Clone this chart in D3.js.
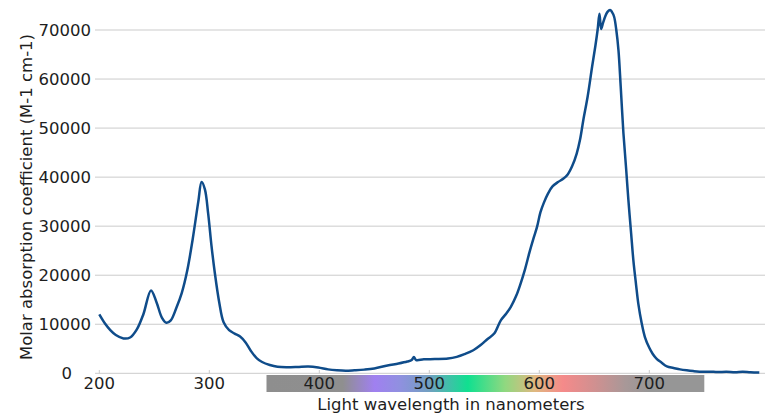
<!DOCTYPE html>
<html>
<head>
<meta charset="utf-8">
<script src="https://cdn.jsdelivr.net/npm/d3@7"></script>
<style>
  body { margin: 0; background: #fff; }
  text { font-family: "DejaVu Sans", sans-serif; fill: #1e1e1e; }
</style>
</head>
<body>
<svg id="chart" width="766" height="416"></svg>
<script>
// wavelength (nm) and molar absorption coefficient
var wavelengths = [200, 205, 210, 215, 222, 228, 234, 240, 247, 252, 257, 261, 265, 270, 275, 280, 285, 290, 293, 296,
  299, 302, 305, 309, 313, 318, 323, 328, 333, 338, 343, 348, 355, 362, 370, 380, 390, 399, 408, 416,
  424, 432, 441, 450, 462, 472, 480, 484, 486, 488, 495, 505, 517, 525, 532, 540, 547, 553, 559, 565,
  570, 574, 579, 583, 587, 591, 595, 598, 601, 604, 608, 612, 617, 622, 626, 630, 634, 637, 640, 644,
  648, 651, 653, 654.7, 656.2, 658, 660, 662, 664.3, 666, 668, 670, 672, 674, 676.5, 679, 681, 683.5, 685.5, 688,
  690, 693, 696, 700, 703, 706.5, 711, 716, 722, 728, 734, 740, 749, 755, 762, 770, 778, 785, 792, 800];
var absorption = [12000, 10200, 8800, 7800, 7100, 7300, 8900, 12000, 16900, 14500, 11300, 10300, 10800, 13300, 16400, 21000, 27500, 35000, 39000, 37500,
  32500, 26000, 20500, 14500, 10400, 8800, 8100, 7500, 6300, 4500, 3100, 2300, 1700, 1350, 1250, 1300, 1400, 1200, 800, 600,
  500, 600, 750, 1000, 1600, 2000, 2400, 2700, 3300, 2700, 2850, 2900, 3000, 3350, 3900, 4700, 5800, 7000, 8100, 10800,
  12200, 13500, 15800, 18300, 21200, 24600, 27700, 29900, 32800, 34700, 36700, 38100, 39000, 39700, 40600, 42300, 44800, 47600, 51600, 56500,
  62500, 66800, 70000, 73300, 70200, 71500, 72800, 73700, 74100, 73700, 72700, 70000, 65800, 58500, 48900, 41500, 35300, 28500, 23100, 18000,
  14200, 10300, 7400, 5200, 4000, 3000, 2200, 1400, 1100, 800, 600, 450, 300, 330, 250, 300, 230, 300, 200, 150];

var xTicks = [200, 300, 400, 500, 600, 700];
var yTicks = [0, 10000, 20000, 30000, 40000, 50000, 60000, 70000];

// visible-light strip under the axis
var bandRange = [352, 750];
var bandStops = [
  [0, "#8e8e8e"], [0.174, "#8f8f8f"], [0.247, "#a080f0"], [0.304, "#9090e0"], [0.373, "#70a0c0"],
  [0.46, "#10e090"], [0.545, "#90d880"], [0.613, "#e0b880"], [0.677, "#f58a8a"], [0.75, "#d09090"],
  [0.82, "#a89898"], [0.876, "#969696"], [1, "#969696"]
];

var data = wavelengths.map(function(w, i) { return { w: w, v: absorption[i] }; });

var svg = d3.select("#chart");

var x = d3.scaleLinear().domain([200, 800]).range([99.3, 759.3]);
var y = d3.scaleLinear().domain([0, 70000]).range([373.3, 30]);

// gradient
var grad = svg.append("defs").append("linearGradient")
  .attr("id", "spectrum").attr("x1", "0%").attr("x2", "100%");
grad.selectAll("stop").data(bandStops).enter().append("stop")
  .attr("offset", function(d) { return d[0]; })
  .attr("stop-color", function(d) { return d[1]; });

// horizontal grid
svg.append("g").selectAll("line").data(yTicks).enter().append("line")
  .attr("x1", 95).attr("x2", 765)
  .attr("y1", function(d) { return y(d); })
  .attr("y2", function(d) { return y(d); })
  .attr("stroke", "#cbcbcb").attr("stroke-width", 1);

// y labels
svg.append("g").selectAll("text").data(yTicks).enter().append("text")
  .attr("x", function(d) { return d === 0 ? 72 : 91; })
  .attr("y", function(d) { return y(d) + 6; })
  .attr("text-anchor", "end")
  .style("font-size", "16.5px")
  .text(function(d) { return d; });

// spectrum strip
svg.append("rect")
  .attr("x", x(bandRange[0])).attr("y", 375)
  .attr("width", x(bandRange[1]) - x(bandRange[0])).attr("height", 17)
  .attr("fill", "url(#spectrum)");

// x ticks
svg.append("g").selectAll("line").data(xTicks).enter().append("line")
  .attr("x1", function(d) { return x(d); })
  .attr("x2", function(d) { return x(d); })
  .attr("y1", 370).attr("y2", 373.3)
  .attr("stroke", "#cbcbcb");

svg.append("g").selectAll("text").data(xTicks).enter().append("text")
  .attr("x", function(d) { return x(d); })
  .attr("y", 389)
  .attr("text-anchor", "middle")
  .style("font-size", "16.5px")
  .text(function(d) { return d; });

// curve
var line = d3.line()
  .x(function(d) { return x(d.w); })
  .y(function(d) { return y(d.v); })
  .curve(d3.curveCatmullRom.alpha(0.5));

svg.append("path")
  .datum(data)
  .attr("d", line)
  .attr("fill", "none")
  .attr("stroke", "#0f4c8a")
  .attr("stroke-width", 2.5)
  .attr("stroke-linejoin", "round");

// titles
svg.append("text")
  .attr("x", 451).attr("y", 410)
  .attr("text-anchor", "middle")
  .style("font-size", "16.5px")
  .text("Light wavelength in nanometers");

svg.append("text")
  .attr("transform", "translate(32,197) rotate(-90)")
  .attr("text-anchor", "middle")
  .style("font-size", "16.5px")
  .text("Molar absorption coefficient (M-1 cm-1)");
</script>
</body>
</html>
